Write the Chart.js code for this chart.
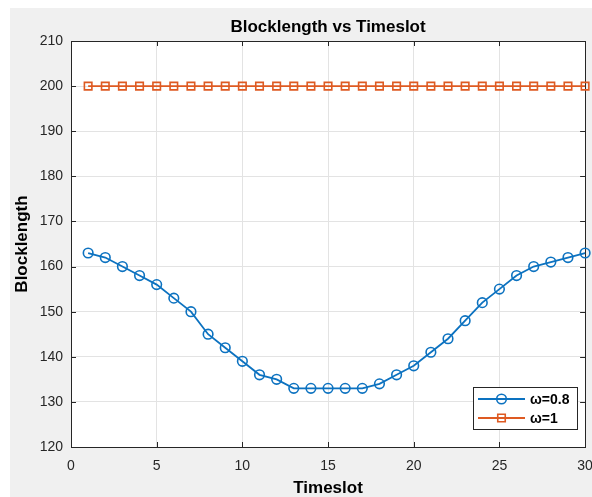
<!DOCTYPE html>
<html><head><meta charset="utf-8">
<script src="https://cdn.jsdelivr.net/npm/chart.js@4/dist/chart.umd.min.js"></script>
<style>html,body{margin:0;padding:0;background:#fff;}#wrap{width:592px;height:497px;position:relative;}</style>
</head><body>
<div id="wrap"><canvas id="c" width="592" height="497"></canvas></div>
<script>
const timeslots = [1,2,3,4,5,6,7,8,9,10,11,12,13,14,15,16,17,18,19,20,21,22,23,24,25,26,27,28,29,30];
const blocklengthOmega08 = [163,162,160,158,156,153,150,145,142,139,136,135,133,133,133,133,133,134,136,138,141,144,148,152,155,158,160,161,162,163];
const blocklengthOmega1 = [200,200,200,200,200,200,200,200,200,200,200,200,200,200,200,200,200,200,200,200,200,200,200,200,200,200,200,200,200,200];
const xTickValues = [0,5,10,15,20,25,30];
const yTickValues = [120,130,140,150,160,170,180,190,200,210];
const seriesNames = ['ω=0.8','ω=1'];
const chartTitle = 'Blocklength vs Timeslot';
const xAxisTitle = 'Timeslot';
const yAxisTitle = 'Blocklength';

const FONT = "'Liberation Sans', Arial, sans-serif";
const BLUE = '#0C72C0', ORANGE = '#DE5A22', AXIS = '#262626';

const toXY = (xs, ys) => xs.map((x, i) => ({x, y: ys[i]}));

const bgPlugin = {
  id: 'bg',
  beforeDraw(chart) {
    const {ctx, chartArea: a} = chart;
    ctx.save();
    ctx.fillStyle = '#ffffff';
    ctx.fillRect(0, 0, chart.width, chart.height);
    ctx.fillStyle = '#f0f0f0';
    ctx.fillRect(10, 8, chart.width - 10, chart.height - 8);
    ctx.fillStyle = '#ffffff';
    ctx.fillRect(a.left, a.top, a.right - a.left, a.bottom - a.top);
    ctx.restore();
  },
  beforeDatasetsDraw(chart) {
    const {ctx, chartArea: a, scales} = chart;
    ctx.save();
    ctx.strokeStyle = AXIS;
    ctx.lineWidth = 1;
    ctx.strokeRect(Math.round(a.left) + 0.5, Math.round(a.top) + 0.5, Math.round(a.right - a.left), Math.round(a.bottom - a.top));
    ctx.beginPath();
    const tl = 5;
    xTickValues.forEach(v => {
      const px = Math.round(scales.x.getPixelForValue(v)) + 0.5;
      ctx.moveTo(px, a.bottom); ctx.lineTo(px, a.bottom - tl);
      ctx.moveTo(px, a.top); ctx.lineTo(px, a.top + tl);
    });
    yTickValues.forEach(v => {
      const py = Math.round(scales.y.getPixelForValue(v)) + 0.5;
      ctx.moveTo(a.left, py); ctx.lineTo(a.left + tl, py);
      ctx.moveTo(a.right, py); ctx.lineTo(a.right - tl, py);
    });
    ctx.stroke();
    ctx.restore();
  },
  afterDraw(chart) {
    const {ctx} = chart;
    const bx = 473, by = 387, bw = 104, bh = 42;
    ctx.save();
    ctx.fillStyle = '#ffffff';
    ctx.fillRect(bx, by, bw, bh);
    ctx.strokeStyle = AXIS;
    ctx.lineWidth = 1;
    ctx.strokeRect(bx + 0.5, by + 0.5, bw, bh);
    chart.data.datasets.forEach((ds, i) => {
      const y = by + 12 + i * 19;
      ctx.strokeStyle = ds.borderColor;
      ctx.lineWidth = ds.borderWidth;
      ctx.beginPath();
      ctx.moveTo(478, y); ctx.lineTo(525, y);
      ctx.stroke();
      ctx.lineWidth = ds.pointBorderWidth;
      ctx.beginPath();
      if (ds.pointStyle === 'circle') {
        ctx.arc(501.5, y, ds.pointRadius, 0, Math.PI * 2);
      } else {
        const s = ds.pointRadius * Math.SQRT1_2;
        ctx.rect(501.5 - s, y - s, 2 * s, 2 * s);
      }
      ctx.stroke();
      ctx.fillStyle = '#000';
      ctx.font = 'bold 14px ' + FONT;
      ctx.textBaseline = 'middle';
      ctx.textAlign = 'left';
      ctx.fillText(ds.label, 530, y + 1);
    });
    ctx.restore();
  }
};

new Chart(document.getElementById('c'), {
  type: 'line',
  data: {
    datasets: [
      {
        label: seriesNames[0],
        data: toXY(timeslots, blocklengthOmega08),
        borderColor: BLUE, borderWidth: 1.8,
        pointStyle: 'circle', pointRadius: 4.8, pointBorderWidth: 1.6,
        pointBorderColor: BLUE, pointBackgroundColor: 'rgba(0,0,0,0)',
        tension: 0, clip: false
      },
      {
        label: seriesNames[1],
        data: toXY(timeslots, blocklengthOmega1),
        borderColor: ORANGE, borderWidth: 1.8,
        pointStyle: 'rect', pointRadius: 5.3, pointBorderWidth: 1.6,
        pointBorderColor: ORANGE, pointBackgroundColor: 'rgba(0,0,0,0)',
        tension: 0, clip: false
      }
    ]
  },
  options: {
    responsive: false,
    animation: false,
    devicePixelRatio: 1,
    layout: {padding: {left: 0, right: 3, top: 0, bottom: 0}},
    plugins: {
      legend: {display: false},
      tooltip: {enabled: false},
      title: {
        display: true, text: chartTitle, fullSize: false,
        color: '#000', font: {family: FONT, size: 17, weight: 'bold'},
        padding: {top: 17, bottom: 3.6}
      }
    },
    scales: {
      x: {
        type: 'linear', min: 0, max: 30,
        afterBuildTicks: s => { s.ticks = xTickValues.map(v => ({value: v})); },
        afterFit: s => { s.height = 50; s.paddingLeft = 0; s.paddingRight = 0; },
        grid: {color: '#e3e3e3', lineWidth: 1, drawTicks: false},
        border: {display: false},
        ticks: {color: AXIS, font: {family: FONT, size: 14}, padding: 11, maxRotation: 0, autoSkip: false},
        title: {display: true, text: xAxisTitle, color: '#000', font: {family: FONT, size: 17, weight: 'bold'}, padding: {top: 0, bottom: -2}}
      },
      y: {
        type: 'linear', min: 120, max: 210,
        afterBuildTicks: s => { s.ticks = yTickValues.map(v => ({value: v})); },
        afterFit: s => { s.width = 71; s.paddingTop = 0; s.paddingBottom = 0; },
        grid: {color: '#e3e3e3', lineWidth: 1, drawTicks: false},
        border: {display: false},
        ticks: {color: AXIS, font: {family: FONT, size: 14}, padding: 8, autoSkip: false},
        title: {display: true, text: yAxisTitle, color: '#000', font: {family: FONT, size: 17, weight: 'bold'}, padding: {top: 12, bottom: 0}}
      }
    }
  },
  plugins: [bgPlugin]
});
</script>
</body></html>
